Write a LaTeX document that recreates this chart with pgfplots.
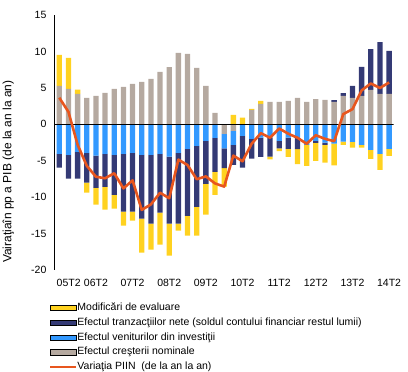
\documentclass[border=0pt]{standalone}
\usepackage{fontspec}
\setmainfont{Liberation Sans}
\usepackage{pgfplots}
\usepackage{pgfplotstable}
\pgfplotsset{compat=1.18}
\definecolor{yellowc}{RGB}{255,210,32}
\definecolor{navyc}{RGB}{52,58,117}
\definecolor{bluec}{RGB}{51,153,255}
\definecolor{grayc}{RGB}{181,169,160}
\definecolor{orangec}{RGB}{232,86,30}

% columns: gp/gn = creşterea nominală (+/-), bl = venituri din investiţii,
% np/nn = tranzacţii nete (+/-), yp/yn = modificări de evaluare (+/-), ln = variaţia PIIN
\pgfplotstableread{
x gp gn bl np nn yp yn ln
0 5.26 0 -4.07 0 -1.87 4.25 0 3.65
1 4.85 0 -4.21 0 -3.24 4.25 0 1.70
2 4.16 0 -3.80 0 -3.65 0.60 0 -2.80
3 3.61 0 -3.93 0 -4.07 0 -1.37 -5.70
4 3.89 0 -4.30 0 -4.43 0 -2.29 -7.20
5 4.30 0 -4.07 0 -4.53 0 -3.11 -7.41
6 4.85 0 -4.21 0 -5.48 0 -1.88 -6.72
7 5.12 0 -4.07 0 -7.91 0 -1.92 -8.80
8 5.53 0 -3.93 0 -8.05 0 -1.23 -7.70
9 5.81 0 -4.21 0 -8.73 0 -4.66 -11.75
10 6.22 0 -4.21 0 -9.42 0 -3.56 -11.00
11 7.18 0 -4.07 0 -8.05 0 -4.39 -9.40
12 7.86 0 -4.44 0 -9.19 0 -4.39 -10.15
13 9.79 0 -3.93 0 -9.70 0 -0.96 -4.85
14 9.65 0 -3.38 0 -9.19 0 -2.70 -5.60
15 7.73 0 -2.97 0 -8.37 0 -3.93 -7.54
16 5.26 0 -2.29 0 -5.89 0 -4.21 -7.15
17 1.55 0 -1.87 0 -4.67 0 -3.15 -8.12
18 0 -1.33 -1.96 0 -2.74 0 -2.52 -8.55
19 0 -0.91 -1.92 0 -2.74 1.28 0 -4.30
20 0 0 -1.60 0 -4.34 0.91 0 -5.08
21 1.97 0 -2.01 0 -2.72 0.14 0 -2.66
22 2.79 0 -1.83 0 -2.63 0.41 0 -1.22
23 3.06 0 -1.83 0 -2.60 0 -0.39 -1.85
24 3.06 0 -2.29 0 -1.01 0 -0.37 -0.58
25 3.20 0 -1.83 0 -1.55 0 -1.08 -1.30
26 3.61 0 -1.90 0 -1.50 0 -2.06 -1.85
27 3.06 0 -2.83 0 0 0 -2.88 -2.68
28 3.47 0 -2.29 0 -0.25 0 -2.47 -1.50
29 3.34 0 -2.51 0 -0.30 0 -2.45 -2.00
30 3.06 0 -2.65 0.27 0 0 -3.00 -2.32
31 3.89 0 -2.38 0.37 0 0 -0.46 1.40
32 3.61 0 -2.42 1.65 0 0 -0.78 2.08
33 3.89 0 -2.83 3.98 0 0 -0.37 4.65
34 4.71 0 -3.52 5.62 0 0 -1.23 5.60
35 4.16 0 -4.07 7.13 0 0 -2.19 4.98
36 4.16 0 -3.38 5.90 0 0 -0.96 5.74
}\datatable

\pgfplotsset{
  base/.style={
    scale only axis, width=339pt, height=255pt,
    at={(54.7pt,102pt)}, anchor=south west,
    xmin=-0.5, xmax=36.5, ymin=-20, ymax=15,
  },
  barleg/.style={legend image code/.code={\fill[##1] (0pt,-2.6pt) rectangle (26pt,2.6pt);}},
  lineleg/.style={legend image code/.code={\draw[##1] (0pt,0pt) -- (26pt,0pt);}},
}

\begin{document}
\begin{tikzpicture}
\useasboundingbox (0,0) rectangle (408pt,372pt);
% positive stack
\begin{axis}[base, hide axis, ybar stacked, bar width=5.3pt]
\addplot[fill=grayc, draw=none] table[x=x,y=gp]{\datatable};
\addplot[fill=navyc, draw=none] table[x=x,y=np]{\datatable};
\addplot[fill=yellowc, draw=none] table[x=x,y=yp]{\datatable};
\end{axis}
% negative stack
\begin{axis}[base, hide axis, ybar stacked, bar width=5.3pt]
\addplot[fill=grayc, draw=none] table[x=x,y=gn]{\datatable};
\addplot[fill=bluec, draw=none] table[x=x,y=bl]{\datatable};
\addplot[fill=navyc, draw=none] table[x=x,y=nn]{\datatable};
\addplot[fill=yellowc, draw=none] table[x=x,y=yn]{\datatable};
\end{axis}
% visible axis, line and legend
\begin{axis}[base,
  axis x line*=bottom, axis y line*=left,
  x axis line style={draw=none},
  y axis line style={line width=0.9pt},
  major tick length=0pt,
  ytick={-20,-15,...,15},
  xtick={0,4,...,36},
  xticklabels={{\makebox[0pt][l]{\hspace*{-2.6pt}05T2}},06T2,07T2,08T2,09T2,10T2,11T2,12T2,13T2,14T2},
  /pgf/number format/assume math mode=true,
  tick label style={font=\fontsize{10.5}{12}\selectfont},
  yticklabel style={xshift=-4.8pt},
  xticklabel style={yshift=-5.5pt},
  ylabel={Vairaţiaîn pp a PIB (de la an la an)},
  ylabel style={font=\fontsize{12}{14}\selectfont, at={(axis description cs:-0.137,0.3855)}, anchor=center},
  legend style={at={(axis description cs:-0.016,-0.1275)}, anchor=north west,
    draw=none, fill=none, inner sep=0pt,
    font=\fontsize{10.5}{12}\selectfont,
    row sep=4.25pt,
    nodes={inner sep=0pt, text height=8pt, text depth=2.5pt},
    /tikz/every even column/.append style={column sep=3pt}},
  legend cell align=left,
]
\addlegendimage{barleg, fill=yellowc}
\addlegendentry{Modificări de evaluare}
\addlegendimage{barleg, fill=navyc}
\addlegendentry{Efectul tranzacţiilor nete (soldul contului financiar restul lumii)}
\addlegendimage{barleg, fill=bluec}
\addlegendentry{Efectul veniturilor din investiţii}
\addlegendimage{barleg, fill=grayc}
\addlegendentry{Efectul creşterii nominale}
\addlegendimage{lineleg, draw=orangec, line width=2pt}
\addlegendentry{Variaţia PIIN\ \ (de la an la an)}
\addplot[black, line width=1pt, forget plot] coordinates {(-0.5,0) (36.5,0)};
\addplot[orangec, line width=2.6pt, line join=round, forget plot] table[x=x,y=ln]{\datatable};
\end{axis}
\end{tikzpicture}
\end{document}
